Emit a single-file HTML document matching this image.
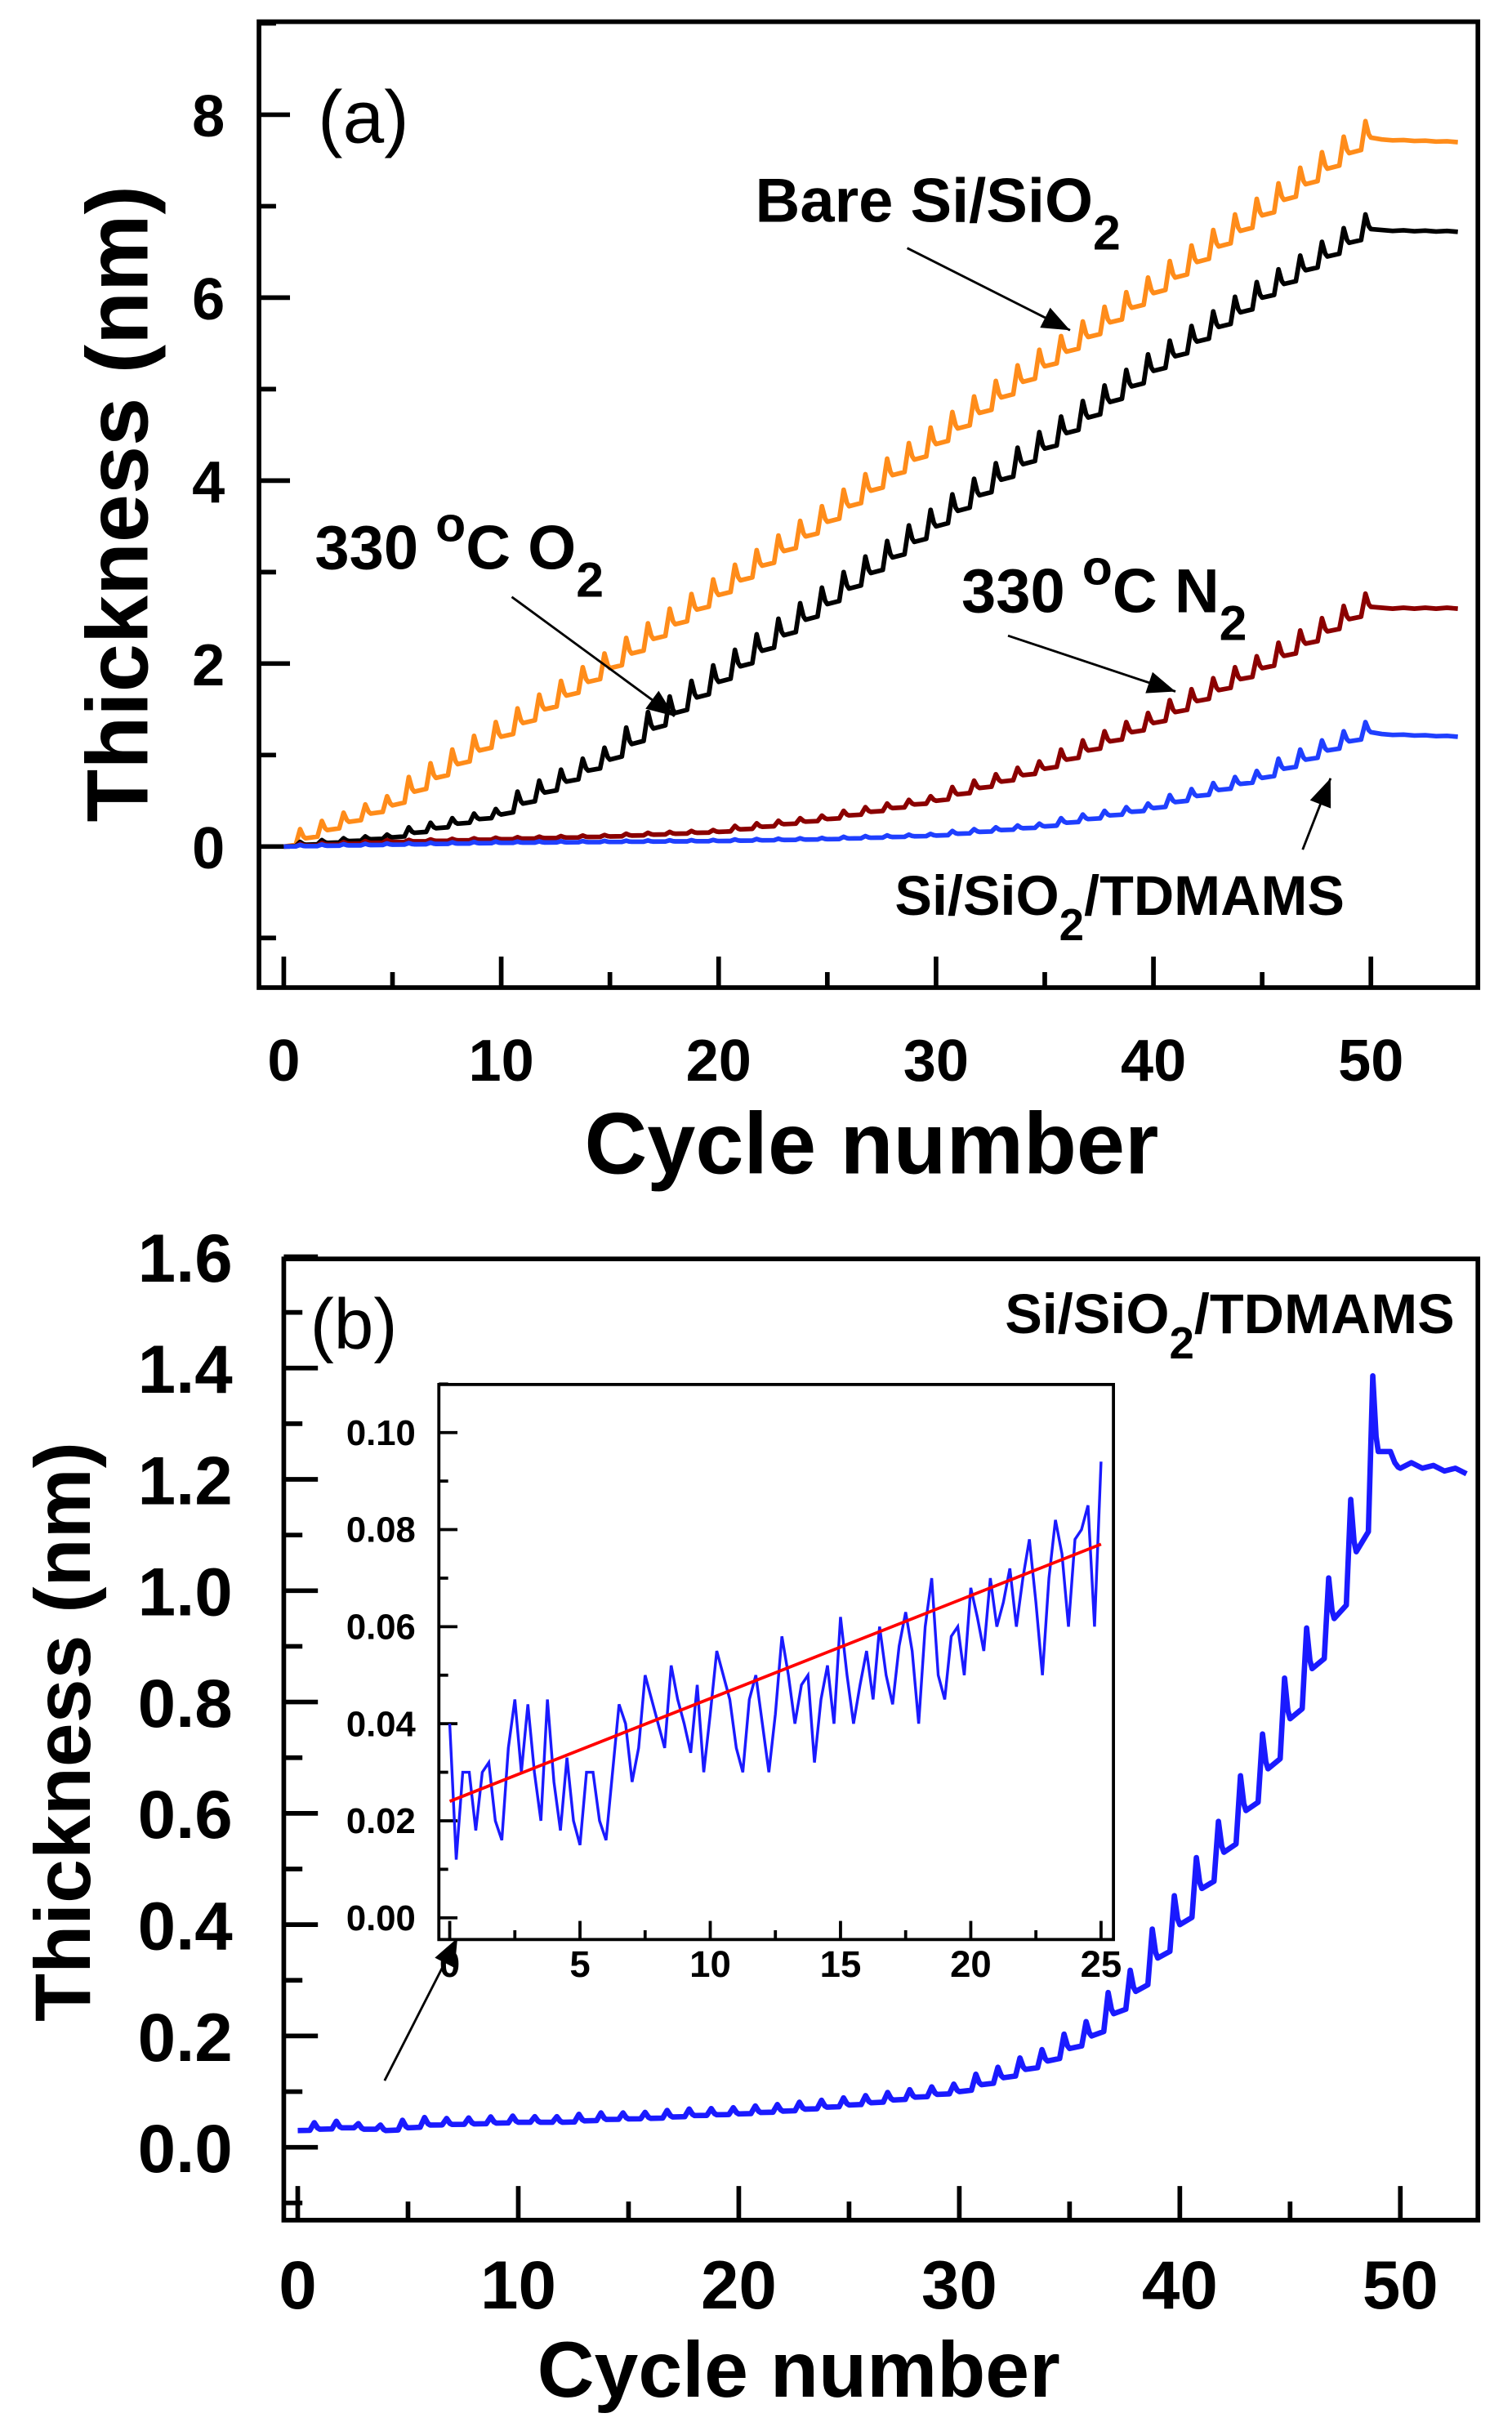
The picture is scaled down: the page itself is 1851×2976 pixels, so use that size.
<!DOCTYPE html>
<html><head><meta charset="utf-8"><style>
html,body{margin:0;padding:0;background:#fff}
svg{display:block;font-family:"Liberation Sans",Arial,sans-serif}
</style></head><body>
<svg id="fig" xmlns="http://www.w3.org/2000/svg" width="1851" height="2976" viewBox="0 0 975 1568" preserveAspectRatio="none">
<defs><marker id="ah" viewBox="0 0 10 10" refX="10" refY="5" markerWidth="16" markerHeight="12" orient="auto-start-reverse"><path d="M0,1 L10,5 L0,9 z" fill="#000"/></marker></defs>
<g id="pa"></g>
<g id="pb"></g>
</svg>
<script>
// ---- panel (a) data: thickness at each integer cycle 0..54 ----
const cyclesA = [0,5,10,15,20,25,30,35,40,45,50,51,54];
const orangeA = [0,0.45,1.2,1.95,2.75,3.55,4.4,5.25,6.05,6.9,7.75,7.72,7.7];
const blackA  = [0,0.1,0.35,0.95,1.8,2.65,3.5,4.35,5.2,6.0,6.75,6.73,6.72];
const brownA  = [0,0.05,0.08,0.11,0.16,0.3,0.5,0.85,1.35,1.95,2.62,2.6,2.6];
const blueA   = [0,0.02,0.04,0.05,0.06,0.08,0.12,0.22,0.42,0.75,1.25,1.22,1.2];
const xTicksA = [0,10,20,30,40,50];
const yTicksA = [0,2,4,6,8];
// ---- panel (b) data ----
const cyclesB = [0,2,4,6,8,10,12,14,16,18,20,22,24,26,28,30,32,34,36,38,40,42,44,46,47,48,49,50,51,53];
const blueB   = [0.03,0.035,0.03,0.04,0.042,0.045,0.045,0.05,0.052,0.057,0.06,0.065,0.072,0.08,0.09,0.1,0.125,0.155,0.2,0.28,0.4,0.53,0.68,0.86,0.95,1.07,1.25,1.22,1.22,1.21];
const xTicksB = [0,10,20,30,40,50];
const yTicksB = [0.0,0.2,0.4,0.6,0.8,1.0,1.2,1.4,1.6];
// ---- inset data (every 0.25 cycle, 0..25) ----
const insetVals = [0.04,0.012,0.03,0.03,0.018,0.03,0.032,0.02,0.016,0.035,0.045,0.03,0.044,0.03,0.02,0.045,0.028,0.018,0.033,0.02,0.015,0.03,0.03,0.02,0.016,0.03,0.044,0.04,0.028,0.035,0.05,0.045,0.04,0.035,0.052,0.045,0.04,0.034,0.048,0.03,0.042,0.055,0.05,0.045,0.035,0.03,0.045,0.05,0.04,0.03,0.042,0.058,0.05,0.04,0.048,0.05,0.032,0.045,0.052,0.04,0.062,0.05,0.04,0.048,0.055,0.045,0.06,0.05,0.044,0.056,0.063,0.055,0.04,0.06,0.07,0.05,0.045,0.058,0.06,0.05,0.068,0.062,0.055,0.07,0.06,0.065,0.072,0.06,0.07,0.078,0.065,0.05,0.07,0.082,0.075,0.06,0.078,0.08,0.085,0.06,0.094];
const insetFit = [0.024,0.077];
const insetXTicks = [0,5,10,15,20,25];
const insetYTicks = [0.00,0.02,0.04,0.06,0.08,0.10];

const NS="http://www.w3.org/2000/svg";
function mk(tag,attrs,parent){const e=document.createElementNS(NS,tag);for(const k in attrs)e.setAttribute(k,attrs[k]);parent.appendChild(e);return e;}
function interp(cs,vs,c){for(let i=0;i<cs.length-1;i++){if(c<=cs[i+1]){const t=(c-cs[i])/(cs[i+1]-cs[i]);return vs[i]+t*(vs[i+1]-vs[i]);}}return vs[vs.length-1];}
function sawPath(cs,vs,X,Y,endGrow,amp){
  let d="M"+X(0)+","+Y(vs[0]);
  const last=cs[cs.length-1];
  for(let i=0;i<last;i++){
    const a=interp(cs,vs,i),b=interp(cs,vs,i+1);
    if(i<endGrow){const st=Math.max(b-a,0);const h=st*amp+0.01;
      d+=" L"+X(i+0.55)+","+Y(a+0.2*st)+" L"+X(i+0.75)+","+Y(b+h)+" L"+X(i+0.9)+","+Y(b+h*0.2)+" L"+X(i+1)+","+Y(b);
    } else d+=" L"+X(i+0.5)+","+Y(b+0.01)+" L"+X(i+1)+","+Y(b);
  }
  return d;
}
// ===== Panel A =====
const pa=document.getElementById('pa');
const XA=c=>183+14.02*c, YA=t=>546-59*t;
let e;
e=mk('rect',{x:167,y:14,width:786,height:623,fill:'none',stroke:'#000','stroke-width':3},pa);

for(let c=0;c<=54;c+=5){e=mk('line',{x1:XA(c),x2:XA(c),y1:637,y2:c%10===0?617:627,stroke:'#000','stroke-width':3},pa);}
for(let t=-1;t<=9;t++){e=mk('line',{x1:167,x2:t%2===0?187:178,y1:YA(t),y2:YA(t),stroke:'#000','stroke-width':3},pa);}
xTicksA.forEach(v=>{e=mk('text',{x:XA(v),y:697,'text-anchor':'middle','font-size':38,'font-weight':'bold'},pa);e.textContent=v;});
yTicksA.forEach(v=>{e=mk('text',{x:145,y:YA(v)+14,'text-anchor':'end','font-size':38,'font-weight':'bold'},pa);e.textContent=v;});
e=mk('text',{x:562,y:757,'text-anchor':'middle','font-size':56,'font-weight':'bold'},pa);e.textContent='Cycle number';
e=mk('text',{x:0,y:0,'text-anchor':'middle','font-size':56,'font-weight':'bold',transform:'translate(95,325) rotate(-90)'},pa);e.textContent='Thickness (nm)';
e=mk('text',{x:205,y:92,'font-size':48},pa);e.textContent='(a)';
[[orangeA,'#ff8c1a','orange-series'],[blackA,'#000','black-series'],[brownA,'#8b0000','brown-series'],[blueA,'#1f3fff','blue-series']].forEach(s=>{
  e=mk('path',{d:sawPath(cyclesA,s[0],XA,YA,50,1.0),fill:'none',stroke:s[1],'stroke-width':3,'stroke-linejoin':'round'},pa);
  
});
function label(parent,x,y,fs,parts,name,anchor){const t=mk('text',{x:x,y:y,'font-size':fs,'font-weight':'bold','text-anchor':anchor||'start'},parent);
  parts.forEach(p=>{const ts=mk('tspan',p[1]?{'baseline-shift':p[1],'font-size':fs*0.8}:{},t);ts.textContent=p[0];});
  return t;}
label(pa,487,143,40,[['Bare Si/SiO'],['2','sub']],'label-bare');
label(pa,203,367,40,[['330 '],['o','super'],['C O'],['2','sub']],'label-o2');
label(pa,620,395,40,[['330 '],['o','super'],['C N'],['2','sub']],'label-n2');
label(pa,577,590,36,[['Si/SiO'],['2','sub'],['/TDMAMS']],'label-tdmams-a');
[[585,160,690,213],[330,385,435,462],[650,410,758,446],[840,548,858,502]].forEach(a=>{e=mk('line',{x1:a[0],y1:a[1],x2:a[2],y2:a[3],stroke:'#000','stroke-width':1.5,'marker-end':'url(#ah)'},pa);});
// ===== Panel B =====
const pb=document.getElementById('pb');
const XB=c=>192+14.22*c, YB=t=>1385-359*t;
e=mk('rect',{x:183,y:812,width:770,height:620,fill:'none',stroke:'#000','stroke-width':3},pb);
for(let c=0;c<=54;c+=5){e=mk('line',{x1:XB(c),x2:XB(c),y1:1432,y2:c%10===0?1410:1420,stroke:'#000','stroke-width':3},pb);}
for(let k=-1;k<=16;k++){const t=k/10;e=mk('line',{x1:183,x2:k%2===0?205:195,y1:YB(t),y2:YB(t),stroke:'#000','stroke-width':3},pb);}
xTicksB.forEach(v=>{e=mk('text',{x:XB(v),y:1489,'text-anchor':'middle','font-size':44,'font-weight':'bold'},pb);e.textContent=v;});
yTicksB.forEach(v=>{e=mk('text',{x:150,y:YB(v)+16,'text-anchor':'end','font-size':44,'font-weight':'bold'},pb);e.textContent=v.toFixed(1);});
e=mk('text',{x:515,y:1546,'text-anchor':'middle','font-size':51,'font-weight':'bold'},pb);e.textContent='Cycle number';
e=mk('text',{x:0,y:0,'text-anchor':'middle','font-size':51,'font-weight':'bold',transform:'translate(58,1117) rotate(-90)'},pb);e.textContent='Thickness (nm)';
e=mk('text',{x:200,y:870,'font-size':46},pb);e.textContent='(b)';
label(pb,938,860,36,[['Si/SiO'],['2','sub'],['/TDMAMS']],'label-tdmams-b','end');
e=mk('path',{d:sawPath(cyclesB,blueB,XB,YB,50,0.7),fill:'none',stroke:'#1a1aff','stroke-width':3.5,'stroke-linejoin':'round'},pb);
e=mk('line',{x1:248,y1:1342,x2:295,y2:1250,stroke:'#000','stroke-width':1.5,'marker-end':'url(#ah)'},pb);
// inset
const XI=c=>290+16.8*c, YI=t=>1237-3130*t;
e=mk('rect',{x:283,y:893,width:435,height:358,fill:'#fff',stroke:'#000','stroke-width':2},pb);
for(let c=0;c<=25;c+=2.5){e=mk('line',{x1:XI(c),x2:XI(c),y1:1251,y2:c%5===0?1239:1245,stroke:'#000','stroke-width':2},pb);}
for(let k=0;k<=11;k++){const t=k/100;e=mk('line',{x1:283,x2:k%2===0?295:289,y1:YI(t),y2:YI(t),stroke:'#000','stroke-width':2},pb);}
insetXTicks.forEach(v=>{e=mk('text',{x:XI(v),y:1275,'text-anchor':'middle','font-size':24,'font-weight':'bold'},pb);e.textContent=v;});
insetYTicks.forEach(v=>{e=mk('text',{x:268,y:YI(v)+8,'text-anchor':'end','font-size':23,'font-weight':'bold'},pb);e.textContent=v.toFixed(2);});
let d='';insetVals.forEach((v,i)=>{d+=(i?' L':'M')+XI(i*0.25)+','+YI(v);});
e=mk('path',{d:d,fill:'none',stroke:'#1a1aff','stroke-width':1.8},pb);
e=mk('line',{x1:XI(0),y1:YI(insetFit[0]),x2:XI(25),y2:YI(insetFit[1]),stroke:'#ff0000','stroke-width':2},pb);
</script>
</body></html>
